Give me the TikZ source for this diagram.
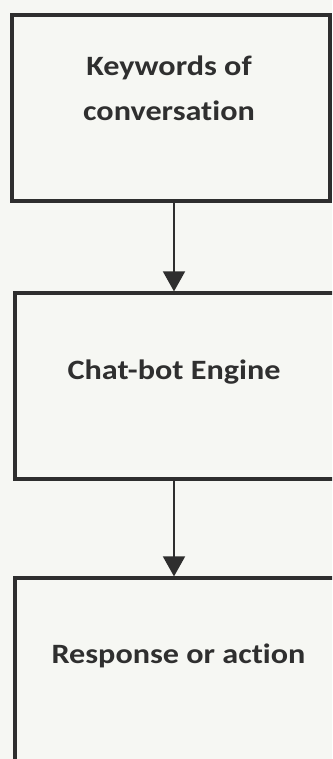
\documentclass[tikz,border=0pt]{standalone}
\usepackage{fontspec}
\newfontfamily\boxfont{Carlito}[FakeStretch=1.15, Ligatures=NoCommon]
\usetikzlibrary{arrows.meta}
\definecolor{paper}{HTML}{F6F7F3}
\definecolor{ink}{HTML}{2E2E2E}
\definecolor{txt}{HTML}{2F2F2F}
\tikzset{
  stepbox/.style={draw=ink, line width=3.2pt, fill=none, inner sep=0pt},
  boxtext/.style={text=txt, font=\boxfont\bfseries\fontsize{28}{34}\selectfont, anchor=base, inner sep=0pt},
  flow/.style={draw=ink, line width=1.6pt, -{Triangle[width=22pt,length=20pt]}}
}
\begin{document}
\begin{tikzpicture}[x=1pt,y=-1pt]
\useasboundingbox (0,0) rectangle (332,759);
\clip (0,0) rectangle (332,759);
\fill[paper] (0,0) rectangle (332,759);
% boxes
\node[stepbox, minimum width=318pt, minimum height=186pt] (b1) at (171,108) {};
\node[stepbox, minimum width=325pt, minimum height=186pt] (b2) at (177.5,386) {};
\node[stepbox, minimum width=325pt, minimum height=202pt] (b3) at (177.5,679) {};
% texts
\node[boxtext] (t1a) at (169,76) {Keywords of};
\node[boxtext] (t1b) at (169,121) {conversation};
\node[boxtext] (t2) at (174,379) {Chat-bot Engine};
\node[boxtext] (t3) at (178.5,663) {Response or action};
% arrows
\coordinate (ax) at (174,0);
\draw[flow] (b1.south -| ax) -- (b2.north -| ax);
\draw[flow] (b2.south -| ax) -- (b3.north -| ax);
\end{tikzpicture}
\end{document}
